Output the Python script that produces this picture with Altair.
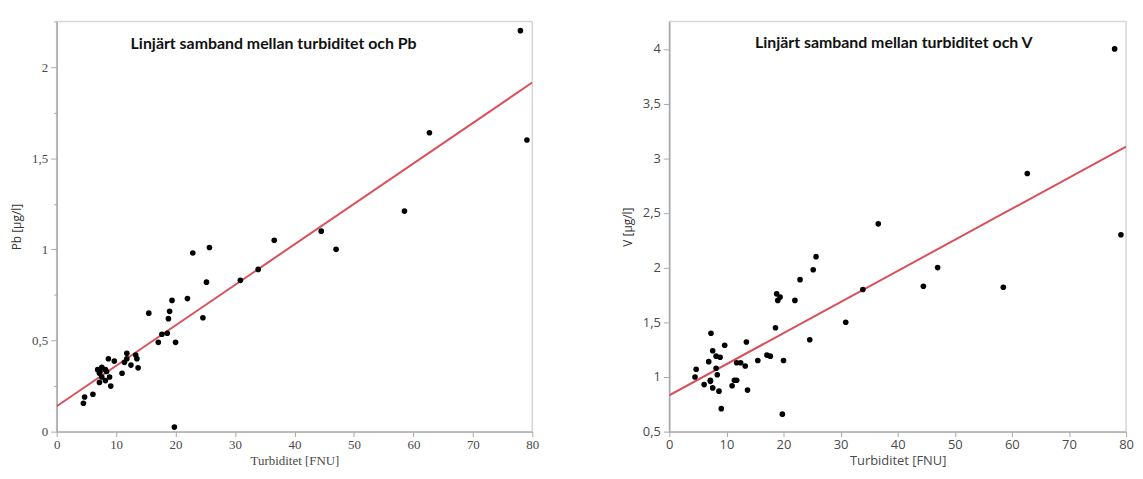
import altair as alt
import pandas as pd

turbiditet = [4.5, 4.7, 6.1, 6.9, 7.2, 7.2, 7.3, 7.6, 7.6, 8.2, 8.2, 8.4, 8.7, 8.9,
              9.1, 9.7, 11.0, 11.4, 11.8, 11.8, 12.5, 13.3, 13.5, 13.7, 15.5, 17.1,
              17.7, 18.6, 18.8, 19.0, 19.4, 19.8, 20.0, 22.0, 22.9, 24.6, 25.2, 25.7,
              30.9, 33.9, 36.6, 44.5, 47.0, 58.5, 62.7, 78.0, 79.1]
pb = [0.156, 0.19, 0.205, 0.34, 0.27, 0.32, 0.33, 0.353, 0.30, 0.28, 0.34, 0.33,
      0.40, 0.30, 0.25, 0.387, 0.32, 0.38, 0.43, 0.40, 0.365, 0.42, 0.40, 0.35,
      0.65, 0.49, 0.534, 0.54, 0.62, 0.66, 0.72, 0.025, 0.49, 0.73, 0.98, 0.625,
      0.82, 1.01, 0.83, 0.89, 1.05, 1.10, 1.00, 1.21, 1.64, 2.20, 1.60]
v = [1.00, 1.07, 0.93, 1.14, 0.97, 0.96, 1.40, 1.24, 0.90, 1.19, 1.08, 1.02,
     0.87, 1.18, 0.71, 1.29, 0.92, 0.97, 1.13, 0.97, 1.13, 1.10, 1.32, 0.88,
     1.15, 1.20, 1.19, 1.45, 1.76, 1.70, 1.73, 0.66, 1.15, 1.70, 1.89, 1.34,
     1.98, 2.10, 1.50, 1.80, 2.40, 1.83, 2.00, 1.82, 2.86, 4.00, 2.30]

x_ticks = [0, 10, 20, 30, 40, 50, 60, 70, 80]
pb_ticks = [0, 0.25, 0.5, 0.75, 1, 1.25, 1.5, 1.75, 2, 2.25]
v_ticks = [0.5, 0.75, 1, 1.25, 1.5, 1.75, 2, 2.25, 2.5, 2.75, 3, 3.25, 3.5, 3.75, 4, 4.25]

df = pd.DataFrame({"Turbiditet": turbiditet, "Pb": pb, "V": v})

RED = "#d9505b"
LABEL = "#4a4a4a"


def panel(ycol, ytitle, ydomain, yticks, title, w, h, title_dx, title_off, label_font, xtitle_font):
    x = alt.X("Turbiditet:Q",
              scale=alt.Scale(domain=[0, 80], nice=False, zero=False),
              axis=alt.Axis(values=x_ticks, title="Turbiditet [FNU]",
                            labelFont=label_font, labelFontSize=13, labelColor=LABEL,
                            titleFont=xtitle_font, titleFontSize=13, titleFontWeight="normal",
                            titleColor=LABEL, tickSize=5, labelPadding=2, titlePadding=3,
                            labelFlush=False))
    y = alt.Y(f"{ycol}:Q",
              scale=alt.Scale(domain=ydomain, nice=False, zero=False),
              axis=alt.Axis(values=yticks, title=ytitle,
                            labelExpr="datum.value % 0.5 === 0 ? replace(format(datum.value, '~g'), '.', ',') : ''",
                            tickSize={"condition": {"test": "datum.value % 0.5 === 0", "value": 6}, "value": 3},
                            labelFont=label_font, labelFontSize=13, labelColor=LABEL,
                            titleFont="Open Sans", titleFontSize=12, titleFontWeight="normal",
                            titleColor="#333333", labelPadding=3, titlePadding=8,
                            labelOverlap=False, labelFlush=False))
    line = (alt.Chart(df)
            .transform_regression("Turbiditet", ycol, extent=[0, 80])
            .mark_line(color=RED, strokeWidth=2, clip=True)
            .encode(x=x, y=y))
    pts = (alt.Chart(df)
           .mark_circle(size=32, color="black", opacity=1)
           .encode(x="Turbiditet:Q", y=f"{ycol}:Q"))
    return alt.layer(line, pts).properties(
        width=w, height=h,
        title=alt.TitleParams(title, anchor="middle", offset=title_off, dx=title_dx,
                              baseline="middle", font="Lato", fontSize=16,
                              fontWeight="bold", color="#111111"))


left = panel("Pb", "Pb [µg/l]", [0, 2.25], pb_ticks,
             "Linjärt samband mellan turbiditet och Pb", 479, 413, -21, -45,
             "Liberation Serif", "Liberation Serif")
right = panel("V", "V [µg/l]", [0.5, 4.25], v_ticks,
              "Linjärt samband mellan turbiditet och V", 460, 413, -4, -38,
              "Open Sans", "Open Sans")

chart = (alt.hconcat(left, right, spacing=81)
         .properties(padding={"left": 2, "top": 5, "right": 0, "bottom": 0})
         .configure_view(stroke="#d6d6d6", strokeWidth=1.5)
         .configure_axis(grid=False, domainColor="#a8a8a8", tickColor="#a8a8a8",
                         domainWidth=1.5, tickWidth=1))

chart.save("out.html", embed_options={"renderer": "svg", "actions": False})
